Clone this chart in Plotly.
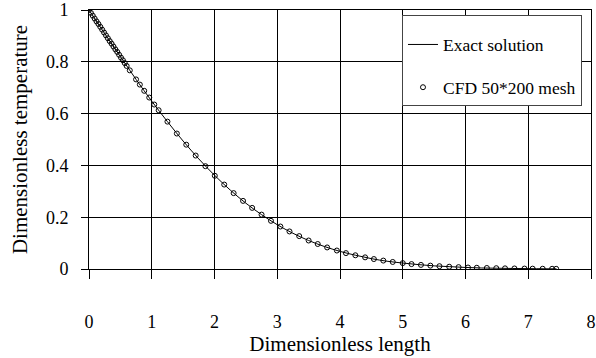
import plotly.graph_objects as go

# Exact solution (line)
exact_x = [0, 0.25, 0.5, 0.75, 1.0, 1.25, 1.5, 1.75, 2.0, 2.25, 2.5, 2.75, 3.0, 3.25,
           3.5, 3.75, 4.0, 4.25, 4.5, 4.75, 5.0, 5.25, 5.5, 5.75, 6.0, 6.25, 6.5,
           6.75, 7.0, 7.25, 7.45]
exact_y = [1.000, 0.909, 0.820, 0.732, 0.648, 0.569, 0.494, 0.425, 0.362, 0.305,
           0.254, 0.210, 0.171, 0.138, 0.110, 0.087, 0.068, 0.053, 0.040, 0.030,
           0.023, 0.017, 0.012, 0.009, 0.006, 0.004, 0.003, 0.002, 0.0014, 0.0009,
           0.0007]

# CFD 50*200 mesh (markers)
cfd_x = [0, 0.03, 0.06, 0.09, 0.12, 0.15, 0.18, 0.21, 0.24, 0.27, 0.30, 0.33, 0.36,
         0.39, 0.42, 0.45, 0.48, 0.51, 0.54, 0.57, 0.60, 0.65, 0.75, 0.81, 0.88,
         0.96, 1.04, 1.11, 1.25, 1.40, 1.55, 1.70, 1.855, 2.005, 2.155, 2.305,
         2.455, 2.60, 2.75, 2.90, 3.05, 3.195, 3.35, 3.50, 3.645, 3.795, 3.95,
         4.095, 4.245, 4.40, 4.54, 4.69, 4.84, 5.00, 5.14, 5.29, 5.44, 5.585,
         5.74, 5.89, 6.04, 6.18, 6.34, 6.49, 6.63, 6.78, 6.94, 7.07, 7.23, 7.38,
         7.445]
cfd_y = [1.000, 0.989, 0.978, 0.967, 0.956, 0.946, 0.935, 0.924, 0.913, 0.902,
         0.891, 0.880, 0.870, 0.859, 0.848, 0.838, 0.827, 0.816, 0.806, 0.795,
         0.784, 0.767, 0.732, 0.712, 0.688, 0.662, 0.635, 0.613, 0.569, 0.523,
         0.480, 0.438, 0.397, 0.360, 0.326, 0.293, 0.263, 0.236, 0.210, 0.186,
         0.164, 0.145, 0.127, 0.110, 0.0965, 0.0832, 0.0713, 0.0613, 0.0530,
         0.0450, 0.0384, 0.0325, 0.0272, 0.0227, 0.0190, 0.0158, 0.0130, 0.0108,
         0.0088, 0.0072, 0.0058, 0.0048, 0.0039, 0.0031, 0.0025, 0.0020, 0.0016,
         0.0013, 0.0010, 0.0008, 0.0007]

x_ticks = [0, 1, 2, 3, 4, 5, 6, 7, 8]
y_ticks = [0, 0.2, 0.4, 0.6, 0.8, 1]

font_family = "Liberation Serif"

fig = go.Figure()
fig.add_trace(go.Scatter(
    x=exact_x, y=exact_y, mode="lines", name="Exact solution",
    line=dict(color="black", width=1, shape="spline"),
    legendgroup="a",
))
fig.add_trace(go.Scatter(
    x=cfd_x, y=cfd_y, mode="markers", name="CFD 50*200 mesh",
    marker=dict(symbol="circle-open", size=5, color="black", line=dict(width=1, color="black")),
    legendgroup="b",
))

fig.update_layout(
    width=596, height=358,
    margin=dict(l=89, r=5, t=10, b=89),
    paper_bgcolor="white", plot_bgcolor="white",
    font=dict(family=font_family, color="black", size=18),
    legend=dict(
        x=0.6235, y=0.98, xanchor="left", yanchor="top",
        bgcolor="white", bordercolor="#444", borderwidth=1,
        font=dict(family=font_family, size=17.5, color="black"),
        title=dict(text="&nbsp;", font=dict(family=font_family, size=8)),
        traceorder="grouped", tracegroupgap=17,
        itemwidth=30,
    ),
    showlegend=True,
)
fig.update_xaxes(
    range=[0, 8], tickvals=x_ticks, ticktext=[str(v) for v in x_ticks],
    showgrid=True, gridcolor="black", gridwidth=1,
    zeroline=False, showline=True, linecolor="black", linewidth=1, mirror=True,
    ticks="outside", ticklen=9, tickcolor="black", tickwidth=1,
    ticklabelstandoff=27, automargin=False,
    tickfont=dict(family=font_family, size=18),
    title=dict(text="Dimensionless length", font=dict(family=font_family, size=21), standoff=3),
)
fig.update_yaxes(
    range=[0, 1], tickvals=y_ticks, ticktext=["0", "0.2", "0.4", "0.6", "0.8", "1"],
    showgrid=True, gridcolor="black", gridwidth=1,
    zeroline=False, showline=True, linecolor="black", linewidth=1, mirror=True,
    ticks="outside", ticklen=7, tickcolor="black", tickwidth=1,
    ticklabelstandoff=9, automargin=False,
    tickfont=dict(family=font_family, size=18),
    title=dict(text="Dimensionless temperature", font=dict(family=font_family, size=21), standoff=12),
)

fig.write_html("out.html", config={"displayModeBar": False},
               post_script="document.body.style.margin='0';")
